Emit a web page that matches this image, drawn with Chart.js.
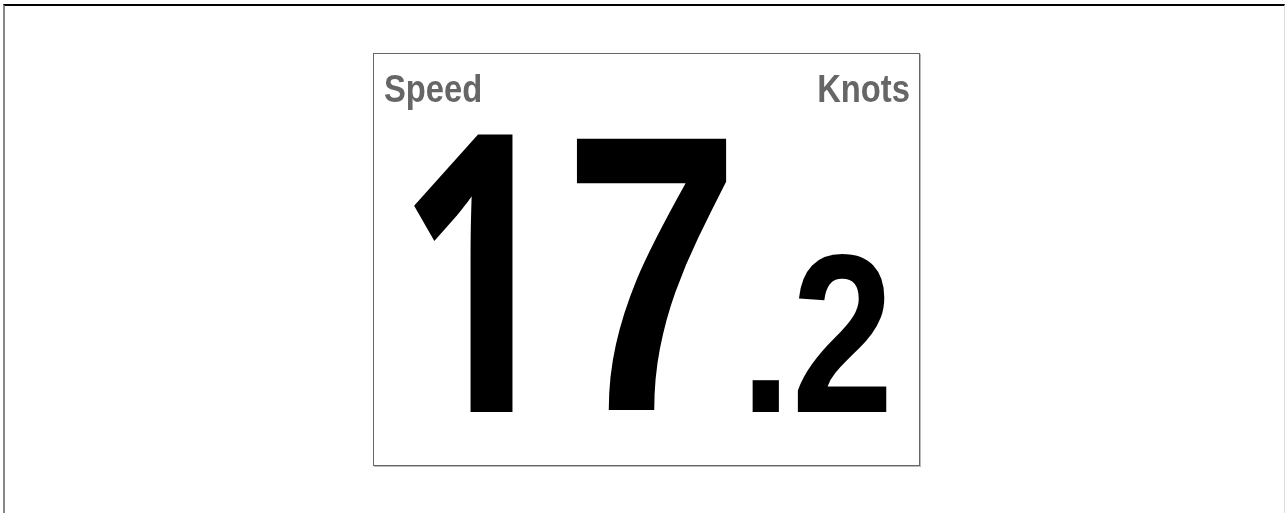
<!DOCTYPE html>
<html>
<head>
<meta charset="utf-8">
<script src="https://cdn.jsdelivr.net/npm/chart.js@4/dist/chart.umd.min.js"></script>
<style>
  html, body { margin: 0; padding: 0; background: #fff; }
  body { width: 1288px; height: 513px; overflow: hidden; position: relative; }
  #frame {
    position: absolute; left: 3px; top: 4px; width: 1282px; height: 520px;
    border-top: 2px solid #000; border-left: 2px solid #888; border-right: 1px solid #ddd;
    box-sizing: border-box;
  }
  #panel {
    position: absolute; left: 373px; top: 53px; width: 547px; height: 413px;
    border: 1px solid #666; box-shadow: 1px 1px 0 #bbb; box-sizing: border-box; background: #fff;
  }
  #gauge { display: block; }
</style>
</head>
<body>
<div id="frame"></div>
<div id="panel"><canvas id="gauge" width="545" height="411"></canvas></div>
<script>
const labels = ['Speed'];
const units = ['Knots'];
const speedValues = [17.2];

const family = "'Liberation Sans', Arial, sans-serif";
// Liberation's "1" has a foot, the display font does not
const oneFamily = "'Open Sans', 'Noto Sans', sans-serif";

// squeeze one glyph so its ink fills the box [l, r] x [t, b]
function drawGlyph(ctx, ch, fam, l, r, t, b) {
  ctx.font = 'bold 200px ' + fam;
  const m = ctx.measureText(ch);
  const inkW = m.actualBoundingBoxLeft + m.actualBoundingBoxRight;
  const inkH = m.actualBoundingBoxAscent + m.actualBoundingBoxDescent;
  ctx.save();
  ctx.translate(l, t);
  ctx.scale((r - l) / inkW, (b - t) / inkH);
  ctx.textAlign = 'left';
  ctx.textBaseline = 'alphabetic';
  ctx.fillText(ch, m.actualBoundingBoxLeft, m.actualBoundingBoxAscent);
  ctx.restore();
}

function drawNarrow(ctx, text, size, x, baseline, align) {
  const sx = 0.84;
  ctx.font = 'bold ' + size + 'px ' + family;
  const w = ctx.measureText(text).width * sx;
  ctx.save();
  ctx.translate(align === 'right' ? x - w : x, baseline);
  ctx.scale(sx, 1);
  ctx.textAlign = 'left';
  ctx.textBaseline = 'alphabetic';
  ctx.fillText(text, 0, 0);
  ctx.restore();
}

// ink boxes of the digits inside the panel: [left, right, top, bottom]
const bigBoxes = [[39, 139, 80, 358], [202, 353, 84, 358]];
const dotBox = [378, 405, 326, 358];
const fracBox = [423, 513, 199, 358];

// draws the reading as a big digital number
const readoutPlugin = {
  id: 'readout',
  afterDraw(chart) {
    const ctx = chart.ctx;
    const w = chart.width;
    const value = chart.data.datasets[0].data[0];
    const parts = value.toFixed(1).split('.');

    ctx.save();
    ctx.fillStyle = '#666';
    drawNarrow(ctx, chart.data.labels[0], 39, 10, 48, 'left');
    drawNarrow(ctx, units[0], 39, w - 9, 48, 'right');

    ctx.fillStyle = '#000';
    parts[0].split('').forEach((ch, i) => {
      const bx = bigBoxes[i];
      drawGlyph(ctx, ch, ch === '1' ? oneFamily : family, bx[0], bx[1], bx[2], bx[3]);
    });
    drawGlyph(ctx, '.', family, dotBox[0], dotBox[1], dotBox[2], dotBox[3]);
    drawGlyph(ctx, parts[1], parts[1] === '1' ? oneFamily : family, fracBox[0], fracBox[1], fracBox[2], fracBox[3]);
    ctx.restore();
  }
};

new Chart(document.getElementById('gauge'), {
  type: 'bar',
  data: {
    labels: labels,
    datasets: [{ data: speedValues, backgroundColor: 'rgba(0,0,0,0)' }]
  },
  options: {
    responsive: false,
    animation: false,
    events: [],
    plugins: { legend: { display: false }, tooltip: { enabled: false } },
    scales: { x: { display: false }, y: { display: false, min: 0, max: 20 } }
  },
  plugins: [readoutPlugin]
});
</script>
</body>
</html>
